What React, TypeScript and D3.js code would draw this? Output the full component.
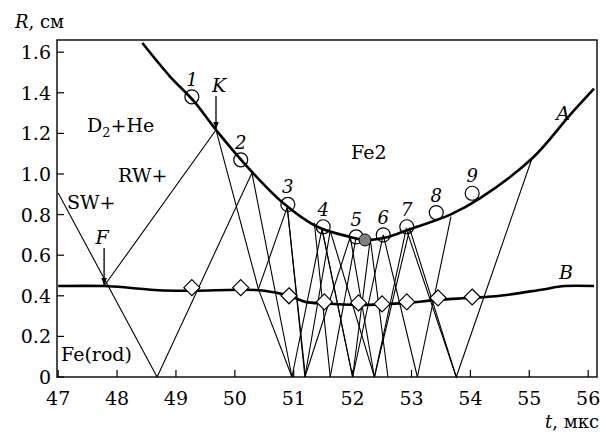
import React from 'react';
import * as d3 from 'd3';

// boundary A (Fe2 / gas), t in us, R in cm
const tA = [48.43, 48.9, 49.3, 49.7, 50.26, 50.82, 51.4, 51.96, 52.21, 52.6, 52.93, 53.66, 54.16, 55.06, 55.69, 56.1];
const rA = [1.645, 1.48, 1.36, 1.21, 1.02, 0.857, 0.74, 0.69, 0.675, 0.69, 0.724, 0.8, 0.88, 1.08, 1.29, 1.42];

// boundary B (rod surface)
const tB = [47, 47.78, 48.2, 48.7, 49.3, 50.1, 50.5, 50.92, 51.2, 51.52, 52.1, 52.5, 52.92, 53.45, 54.03, 54.5, 55.2, 55.6, 56.1];
const rB = [0.448, 0.448, 0.44, 0.427, 0.425, 0.43, 0.425, 0.4, 0.37, 0.362, 0.355, 0.358, 0.365, 0.38, 0.39, 0.4, 0.43, 0.448, 0.448];

// measured points on A (open circles 1..9) and the filled one
const tCirc = [49.27, 50.1, 50.9, 51.5, 52.06, 52.52, 52.92, 53.42, 54.03];
const rCirc = [1.38, 1.07, 0.85, 0.74, 0.69, 0.7, 0.74, 0.81, 0.905];
const circLabels = ['1', '2', '3', '4', '5', '6', '7', '8', '9'];
const tFilled = 52.21;
const rFilled = 0.675;

// measured points on B (diamonds)
const tDiam = [49.27, 50.1, 50.92, 51.52, 52.1, 52.5, 52.92, 53.45, 54.03];
const rDiam = [0.44, 0.44, 0.4, 0.37, 0.365, 0.36, 0.37, 0.39, 0.394];

// wave rays (zigzags between axis and boundary A)
const rays: [number, number][][] = [
  [[47.0, 0.906], [48.68, 0], [50.29, 1.005], [50.97, 0], [51.48, 0.73], [52.0, 0], [52.52, 0.7], [53.1, 0]],
  [[47.78, 0.448], [49.68, 1.217], [50.4, 0.433], [50.97, 0]],
  [[50.4, 0.433], [50.89, 0.837], [51.19, 0], [51.62, 0.72], [52.37, 0], [52.91, 0.73], [53.76, 0], [55.05, 1.08]],
  [[50.89, 0.837], [51.2, 0]],
  [[51.19, 0], [51.96, 0.69], [52.37, 0]],
  [[51.48, 0.73], [52.0, 0]],
  [[52.0, 0], [52.3, 0.68], [52.6, 0]],
  [[52.37, 0], [52.97, 0.73], [53.76, 0]],
  [[53.1, 0], [53.67, 0.79]],
  [[51.35, 0.76], [51.62, 0]],
  [[51.62, 0], [52.06, 0.69]]
];

const xTicks = [47, 48, 49, 50, 51, 52, 53, 54, 55, 56];
const yTicks = [0, 0.2, 0.4, 0.6, 0.8, 1.0, 1.2, 1.4, 1.6];
const yTickLabels = ['0', '0.2', '0.4', '0.6', '0.8', '1.0', '1.2', '1.4', '1.6'];

const W = 610;
const H = 432;
const left = 57, right = 597, top = 40, bottom = 377;

export default function App() {
  const x = d3.scaleLinear().domain([46.98, 56.15]).range([left, right]);
  const y = d3.scaleLinear().domain([0, 1.66]).range([bottom, top]);

  const curve = d3.line<[number, number]>()
    .x(d => x(d[0]))
    .y(d => y(d[1]))
    .curve(d3.curveCatmullRom.alpha(0.5));
  const straight = d3.line<[number, number]>()
    .x(d => x(d[0]))
    .y(d => y(d[1]));

  const ptsA = tA.map((t, i) => [t, rA[i]] as [number, number]);
  const ptsB = tB.map((t, i) => [t, rB[i]] as [number, number]);

  const font = 'DejaVu Serif';

  const fX = x(47.78), fY = y(0.448);
  const kX = x(49.68), kY = y(1.217);

  return (
    <svg width={W} height={H} style={{ position: 'absolute', left: 0, top: 0, background: '#fff' }} fontFamily={font}>
      <defs>
        <marker id="arr" viewBox="0 0 10 10" refX="10" refY="5" markerWidth="7" markerHeight="10" orient="auto" markerUnits="userSpaceOnUse">
          <path d="M0,1 L10,5 L0,9 Z" fill="#000" />
        </marker>
      </defs>

      {/* thin rays */}
      <g fill="none" stroke="#000" strokeWidth={1.1}>
        {rays.map((r, i) => <path key={i} d={straight(r) || ''} />)}
      </g>

      {/* boundaries */}
      <path d={curve(ptsA) || ''} fill="none" stroke="#000" strokeWidth={2.6} />
      <path d={curve(ptsB) || ''} fill="none" stroke="#000" strokeWidth={2.6} />

      {/* frame */}
      <rect x={left} y={top} width={right - left} height={bottom - top} fill="none" stroke="#000" strokeWidth={1.4} />

      {/* ticks */}
      {xTicks.map(t => (
        <g key={t}>
          <line x1={x(t)} x2={x(t)} y1={bottom} y2={bottom - 7} stroke="#000" strokeWidth={1.2} />
          <text x={x(t)} y={405} fontSize={19} textAnchor="middle">{t}</text>
        </g>
      ))}
      {yTicks.map((v, i) => (
        <g key={v}>
          <line x1={left} x2={left + 7} y1={y(v)} y2={y(v)} stroke="#000" strokeWidth={1.2} />
          <text x={51} y={y(v) + 7} fontSize={19} textAnchor="end">{yTickLabels[i]}</text>
        </g>
      ))}

      {/* axis titles */}
      <text x={15} y={28} fontSize={18}><tspan fontStyle="italic">R</tspan>, см</text>
      <text x={599} y={428} fontSize={18} textAnchor="end"><tspan fontStyle="italic">t</tspan>, мкс</text>

      {/* diamonds */}
      {tDiam.map((t, i) => {
        const cx = x(t), cy = y(rDiam[i]);
        const s = 8;
        return <path key={i} d={`M${cx},${cy - s}L${cx + s},${cy}L${cx},${cy + s}L${cx - s},${cy}Z`} fill="#fff" stroke="#000" strokeWidth={1.2} />;
      })}

      {/* circles */}
      {tCirc.map((t, i) => (
        <g key={i}>
          <circle cx={x(t)} cy={y(rCirc[i])} r={7} fill="none" stroke="#000" strokeWidth={1.2} />
          <text x={x(t)} y={y(rCirc[i]) - 11} fontSize={18} fontStyle="italic" textAnchor="middle">{circLabels[i]}</text>
        </g>
      ))}
      <circle cx={x(tFilled)} cy={y(rFilled)} r={6} fill="#808080" stroke="#000" strokeWidth={1} />

      {/* arrows F and K */}
      <line x1={fX} x2={fX} y1={fY - 38} y2={fY - 1} stroke="#000" strokeWidth={1.3} markerEnd="url(#arr)" />
      <text x={fX - 2} y={fY - 42} fontSize={19} fontStyle="italic" textAnchor="middle">F</text>
      <line x1={kX} x2={kX} y1={kY - 34} y2={kY - 1} stroke="#000" strokeWidth={1.3} markerEnd="url(#arr)" />
      <text x={kX + 3} y={kY - 38} fontSize={19} fontStyle="italic" textAnchor="middle">K</text>

      {/* region labels */}
      <text x={87} y={132} fontSize={19}>D<tspan fontSize={13} dy={5}>2</tspan><tspan dy={-5}>+He</tspan></text>
      <text x={118} y={182} fontSize={19}>RW+</text>
      <text x={67} y={209} fontSize={19}>SW+</text>
      <text x={61} y={361} fontSize={19}>Fe(rod)</text>
      <text x={351} y={159} fontSize={19}>Fe2</text>
      <text x={563} y={120} fontSize={19} fontStyle="italic" textAnchor="middle">A</text>
      <text x={566} y={279} fontSize={19} fontStyle="italic" textAnchor="middle">B</text>
    </svg>
  );
}
